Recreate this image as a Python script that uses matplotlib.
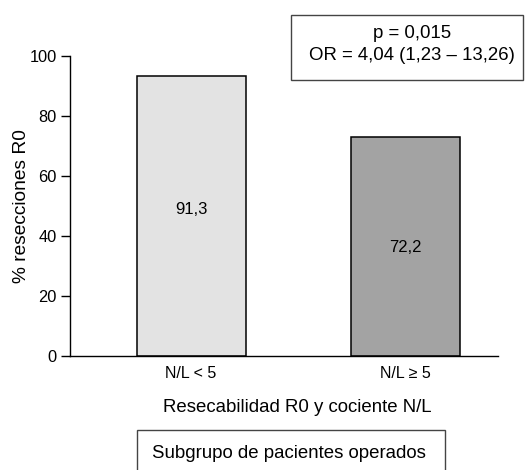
import matplotlib
matplotlib.use("Agg")
import matplotlib.pyplot as plt
from matplotlib.patches import Rectangle

# values
groups = ["N/L < 5", "N/L \u2265 5"]
bar_heights = [93.4, 72.9]
bar_labels = ["91,3", "72,2"]
yticks = [0, 20, 40, 60, 80, 100]
stats_text = "p = 0,015\nOR = 4,04 (1,23 \u2013 13,26)"
subgroup_text = "Subgrupo de pacientes operados"

plt.rcParams["font.family"] = ["Liberation Sans", "DejaVu Sans"]

W, H = 531, 470
fig = plt.figure(figsize=(W / 100, H / 100), dpi=100)
ax = fig.add_axes([70 / W, (H - 356) / H, 428 / W, 300 / H])

colors = ["#e3e3e3", "#a3a3a3"]
x = list(range(len(groups)))
ax.bar(x, bar_heights, width=0.51, color=colors, edgecolor="black", linewidth=1.1)

label_y = [49, 36]
for xi, lab, ly in zip(x, bar_labels, label_y):
    ax.text(xi, ly, lab, ha="center", va="center", fontsize=12)

ax.set_xlim(-0.566, 1.434)
ax.set_ylim(0, 100)
ax.set_yticks(yticks)
ax.set_xticks(x)
ax.set_xticklabels(groups, fontsize=11.5)
ax.tick_params(axis="y", direction="out", length=6.5, width=1, labelsize=11.8, pad=3)
ax.tick_params(axis="x", length=0, pad=7.5)
for s in ["top", "right"]:
    ax.spines[s].set_visible(False)
ax.spines["left"].set_linewidth(1)
ax.spines["bottom"].set_linewidth(1)

ax.set_ylabel("% resecciones R0", fontsize=13.8, va="center")
ax.yaxis.set_label_coords(-0.113, 0.5)
ax.set_xlabel("Resecabilidad R0 y cociente N/L", fontsize=13.4, va="center")
ax.xaxis.set_label_coords(0.530, -0.173)

# stats box (top right)
fig.patches.append(Rectangle((291 / W, (H - 80) / H), 232 / W, 65 / H,
                             transform=fig.transFigure, facecolor="white",
                             edgecolor="#444444", linewidth=1))
fig.text(412 / W, (H - 44.5) / H, stats_text, ha="center", va="center",
         fontsize=13.4, linespacing=1.38)

# subgroup box (bottom, cut by the figure edge)
fig.patches.append(Rectangle((137 / W, -20 / H), 308 / W, (H - 430 + 20) / H,
                             transform=fig.transFigure, facecolor="white",
                             edgecolor="#444444", linewidth=1, clip_on=False))
fig.text(289 / W, (H - 453) / H, subgroup_text, ha="center", va="center", fontsize=13.4)

fig.savefig("out.png", dpi=100)
